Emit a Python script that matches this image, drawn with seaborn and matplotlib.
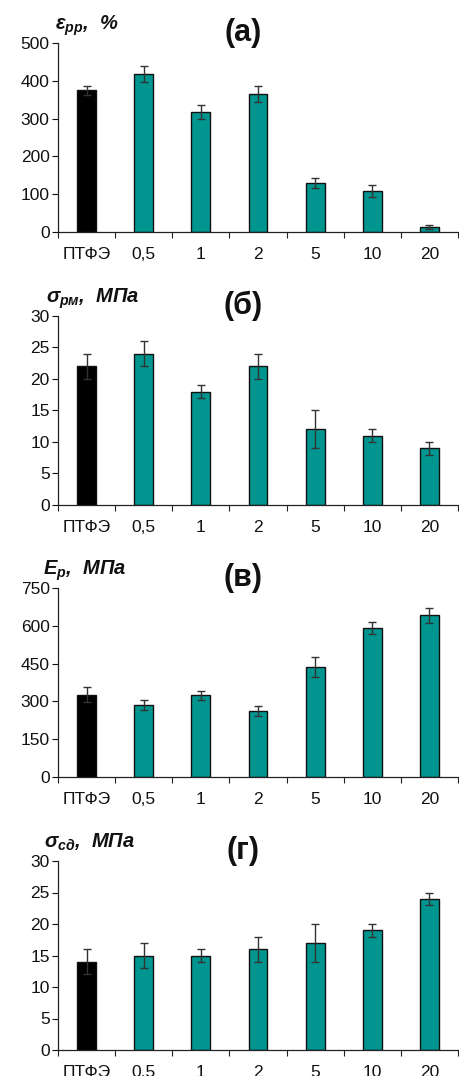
import matplotlib
matplotlib.use("Agg")
import matplotlib.pyplot as plt
import seaborn as sns
import numpy as np

sns.set_theme(style="white")
plt.rcParams['font.family'] = ['Liberation Sans', 'DejaVu Sans']
plt.rcParams['mathtext.fontset'] = 'custom'
plt.rcParams['mathtext.it'] = 'Liberation Sans:italic:bold'
plt.rcParams['mathtext.rm'] = 'Liberation Sans:italic:bold'
plt.rcParams['mathtext.bf'] = 'Liberation Sans:italic:bold'
plt.rcParams['mathtext.default'] = 'it'

categories = ["ПТФЭ", "0,5", "1", "2", "5", "10", "20"]
categories_d = ["ПТФЭ", "0.5", "1", "2", "5", "10", "20"]

eps_vals = [375, 418, 318, 364, 129, 109, 13]
eps_err = [12, 22, 19, 21, 13, 16, 5]

sig_rm_vals = [22, 24, 18, 22, 12, 11, 9]
sig_rm_err = [2, 2, 1, 2, 3, 1, 1]

E_vals = [326, 286, 324, 262, 437, 592, 641]
E_err = [30, 20, 17, 20, 40, 23, 30]

sig_sd_vals = [14, 15, 15, 16, 17, 19, 24]
sig_sd_err = [2, 2, 1, 2, 3, 1, 1]

panels = [
    dict(cats=categories, vals=eps_vals, err=eps_err, ylim=500, step=100,
         ylabel=r"$ε_{рр}$,  %", title="(а)", top=43, bottom=232, lx=55),
    dict(cats=categories, vals=sig_rm_vals, err=sig_rm_err, ylim=30, step=5,
         ylabel=r"$σ_{рм}$,  МПа", title="(б)", top=316, bottom=505, lx=46),
    dict(cats=categories, vals=E_vals, err=E_err, ylim=750, step=150,
         ylabel=r"$E_{р}$,  МПа", title="(в)", top=588, bottom=777, lx=43),
    dict(cats=categories_d, vals=sig_sd_vals, err=sig_sd_err, ylim=30, step=5,
         ylabel=r"$σ_{сд}$,  МПа", title="(г)", top=861, bottom=1050, lx=44),
]

W, H = 460, 1076
fig = plt.figure(figsize=(W / 100, H / 100), dpi=100)
teal = "#00958F"
colors = ["#000000"] + [teal] * 6

for p in panels:
    left, right = 58, 458
    ax = fig.add_axes([left / W, 1 - p["bottom"] / H, (right - left) / W,
                       (p["bottom"] - p["top"]) / H])
    sns.barplot(x=p["cats"], y=p["vals"], hue=p["cats"], palette=colors,
                legend=False, width=0.33, edgecolor="#111111", linewidth=1.0,
                ax=ax, saturation=1)
    ax.errorbar(np.arange(len(p["vals"])), p["vals"], yerr=p["err"], fmt="none",
                ecolor="#333333", elinewidth=1.0, capsize=3, capthick=1.0)
    ax.set_xlim(-0.5, len(p["vals"]) - 0.5)
    ax.set_ylim(0, p["ylim"])
    ax.set_yticks(np.arange(0, p["ylim"] + 1, p["step"]))
    ax.set_xticks(np.arange(len(p["vals"])))
    ax.set_xticklabels(p["cats"])
    ax.set_xticks(np.arange(-0.5, len(p["vals"]), 1.0), minor=True)
    ax.tick_params(axis="x", which="major", length=0, pad=11, labelsize=12.5,
                   colors="#111111")
    ax.tick_params(axis="x", which="minor", length=4, width=0.8,
                   direction="out", color="#222222", bottom=True)
    ax.tick_params(axis="y", which="major", length=4, width=0.8,
                   direction="out", pad=2, labelsize=12.5, colors="#111111",
                   left=True)
    for s in ["top", "right"]:
        ax.spines[s].set_visible(False)
    for s in ["left", "bottom"]:
        ax.spines[s].set_color("#222222")
        ax.spines[s].set_linewidth(0.9)
    ax.set_xlabel("")
    ax.set_ylabel("")
    ax.grid(False)
    fig.text(243.5 / W, 1 - (p["top"] - 10) / H, p["title"], ha="center",
             va="center", fontsize=22, fontweight="bold", color="#111111")
    fig.text(p["lx"] / W, 1 - (p["top"] - 13) / H, p["ylabel"], ha="left",
             va="baseline", fontsize=14.5, fontweight="bold", style="italic",
             color="#111111")

fig.savefig("out.png", dpi=100)
